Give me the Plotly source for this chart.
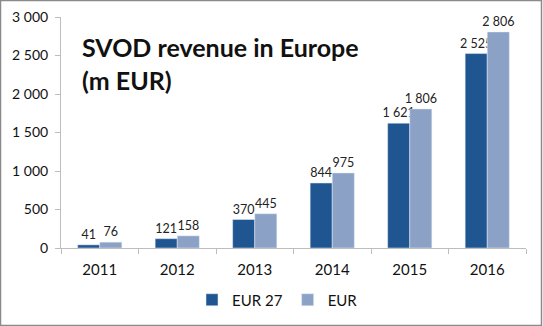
import plotly.graph_objects as go

years = ["2011", "2012", "2013", "2014", "2015", "2016"]
eur27 = [41, 121, 370, 844, 1621, 2525]
eur = [76, 158, 445, 975, 1806, 2806]
tick_vals = [0, 500, 1000, 1500, 2000, 2500, 3000]

W, H = 543, 326
ml, mr, mt, mb = 61, 17, 17, 78
pw, ph = W - ml - mr, H - mt - mb

font = "Lato, Carlito, Calibri, sans-serif"

fig = go.Figure()
fig.add_trace(go.Bar(x=years, y=eur27, name="EUR 27", marker_color="#1F5591",
                     texttemplate="%{y:,d}", textposition="outside", constraintext="none",
                     textfont=dict(size=12.5, color="#222"), cliponaxis=False))
fig.add_trace(go.Bar(x=years, y=eur, name="EUR", marker_color="#8BA2C6",
                     texttemplate="%{y:,d}", textposition="outside", constraintext="none",
                     textfont=dict(size=12.5, color="#222"), cliponaxis=False))

fig.update_layout(
    width=W, height=H,
    margin=dict(l=ml, r=mr, t=mt, b=mb, autoexpand=False),
    paper_bgcolor="white", plot_bgcolor="white",
    separators=". ",
    barmode="group", bargap=0.43, bargroupgap=0,
    font=dict(family=font, size=13, color="#111"),
    showlegend=True,
    legend=dict(orientation="h", x=(192 - ml) / pw, xanchor="left",
                y=-(300 - (H - mb)) / ph, yanchor="middle",
                font=dict(size=15), itemwidth=30, traceorder="normal"),
)
fig.update_yaxes(range=[0, 3000], tickvals=tick_vals, tickformat=",d",
                 showgrid=False, showline=True, linecolor="#BDBDBD", linewidth=1,
                 ticks="outside", ticklen=5, tickcolor="#BDBDBD",
                 tickfont=dict(size=14), zeroline=False, ticklabelstandoff=4)
fig.update_xaxes(showgrid=False, showline=True, linecolor="#BDBDBD", linewidth=1,
                 ticks="outside", tickson="boundaries", ticklen=5, tickcolor="#BDBDBD",
                 tickfont=dict(size=15), ticklabelstandoff=8)

fig.add_annotation(text="<b>SVOD revenue in Europe<br>(m EUR)</b>", xref="paper", yref="paper",
                   x=(80 - ml) / pw, y=(H - mb - 30) / ph, xanchor="left", yanchor="top",
                   showarrow=False, align="left",
                   font=dict(size=25, color="#111", family=font))

# outer frame
fig.add_shape(type="rect", xref="paper", yref="paper",
              x0=(-ml + 0.5) / pw, x1=(pw + mr - 1.5) / pw,
              y0=(-mb + 0.5) / ph, y1=(ph + mt - 0.5) / ph,
              line=dict(color="#8A8A8A", width=1.5), layer="below")

fig.write_html("out.html")
